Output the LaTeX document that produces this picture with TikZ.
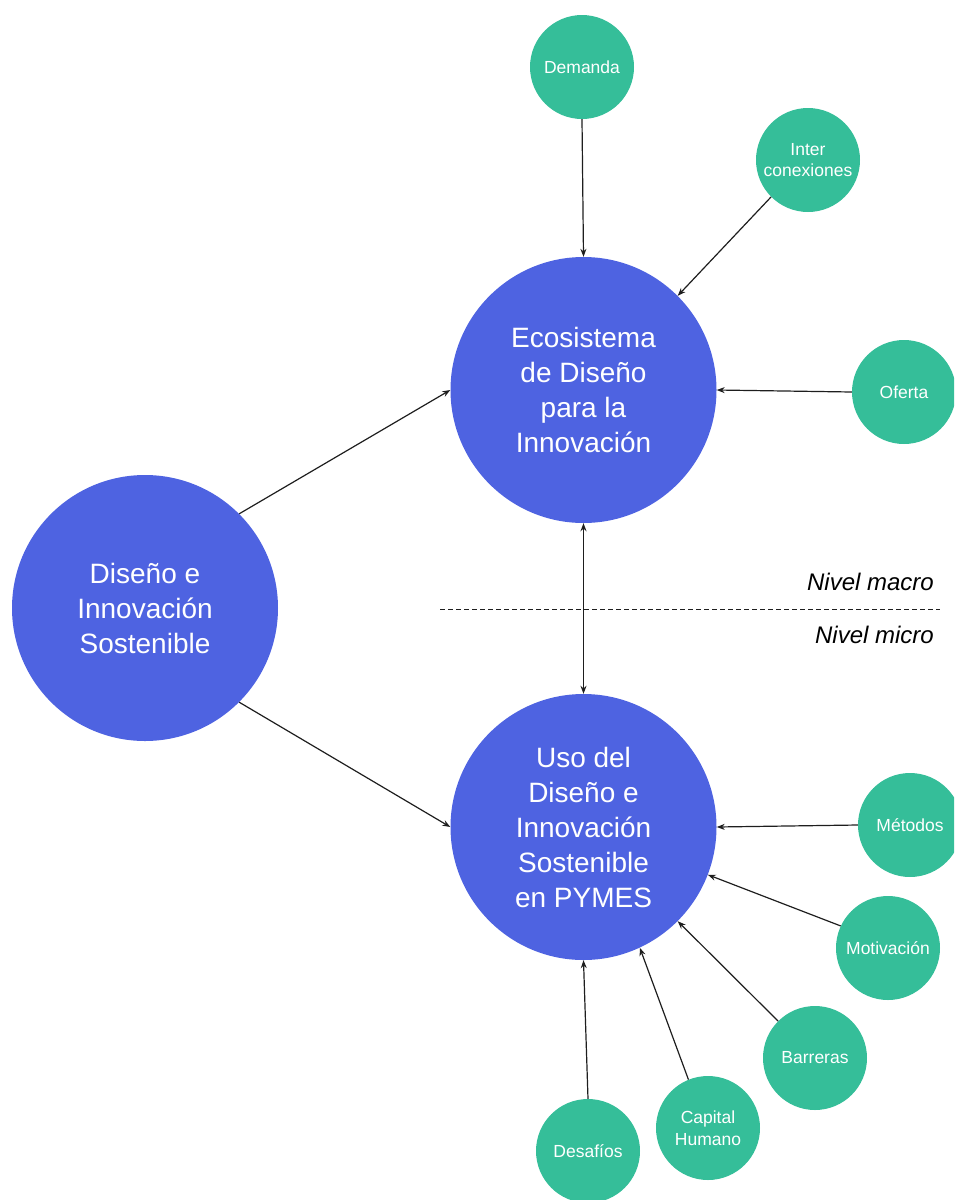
\documentclass[tikz,border=0pt]{standalone}
\usepackage{fontspec}
\setmainfont{Liberation Sans}
\usetikzlibrary{arrows.meta}
\definecolor{bigblue}{RGB}{78,99,225}
\definecolor{smallgreen}{RGB}{53,190,153}
\definecolor{linecol}{RGB}{30,30,30}
\begin{document}
\begin{tikzpicture}[x=1pt,y=-1pt,
  bigc/.style={circle, fill=bigblue, minimum size=266pt, inner sep=0pt, text=white,
    font=\fontsize{28}{35}\selectfont, align=center},
  smallc/.style={circle, fill=smallgreen, minimum size=104pt, inner sep=0pt, text=white,
    font=\fontsize{17.5}{21.5}\selectfont, align=center},
  conn/.style={draw=linecol, line width=1.2pt, -{Stealth[length=8pt,width=6pt]}},
  dconn/.style={draw=linecol, line width=1.2pt, {Stealth[length=8pt,width=6pt]}-{Stealth[length=8pt,width=6pt]}},
  level/.style={font=\fontsize{24}{28}\selectfont\itshape, anchor=base east, inner sep=0pt}
]
\useasboundingbox (0,0) rectangle (954,1200);
\clip (0,0) rectangle (954,1200);

% big circles
\node[bigc] (left) at (145,608) {Diseño e\\Innovación\\Sostenible};
\node[bigc] (top) at (583.5,390) {Ecosistema\\de Diseño\\para la\\Innovación};
\node[bigc] (bot) at (583.5,827) {Uso del\\Diseño e\\Innovación\\Sostenible\\en PYMES};

% small circles
\node[smallc] (dem) at (582,67) {Demanda};
\node[smallc] (inter) at (808,160) {Inter\\conexiones};
\node[smallc] (ofe) at (904,392) {Oferta};
\node[smallc] (met) at (910,825) {Métodos};
\node[smallc] (mot) at (888,948) {Motivación};
\node[smallc] (bar) at (815,1058) {Barreras};
\node[smallc] (cap) at (708,1128) {Capital\\Humano};
\node[smallc] (des) at (588,1151) {Desafíos};

% connectors
\draw[conn] (left.45) -- (top.west);
\draw[conn] (left.-45) -- (bot.west);
\draw[dconn] (top.south) -- (bot.north);
\draw[conn] (dem.south) -- (top.north);
\draw[conn] (inter.225) -- (top.45);
\draw[conn] (ofe.west) -- (top.east);
\draw[conn] (met.west) -- (bot.east);
\draw[conn] (mot.155) -- (bot.-21.5);
\draw[conn] (bar.135) -- (bot.-45);
\draw[conn] (cap.112) -- (bot.-65);
\draw[conn] (des.north) -- (bot.south);

% level separator
\coordinate (dl) at (440,609);
\coordinate (dr) at (940,609);
\draw[linecol, line width=1pt, dash pattern=on 5pt off 3pt] (dl) -- (dr);
\node[level] (macro) at (934,590) {Nivel macro};
\node[level] (micro) at (934,643) {Nivel micro};
\end{tikzpicture}
\end{document}
